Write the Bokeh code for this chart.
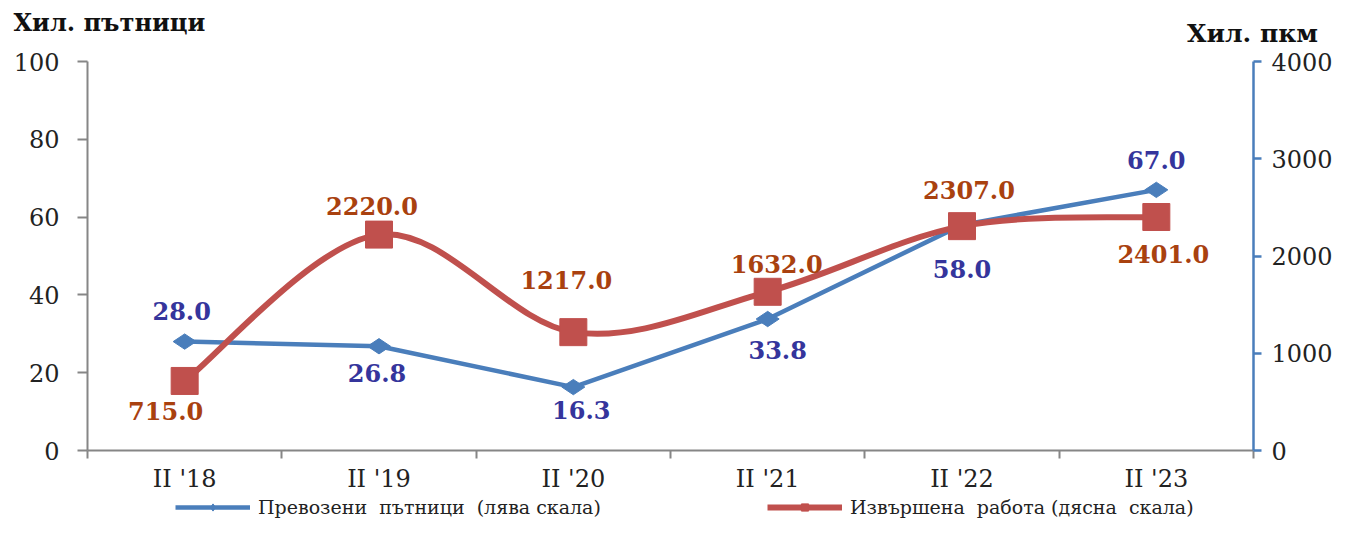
import math
from bokeh.plotting import figure
from bokeh.models import (Range1d, LinearAxis, FixedTicker, Label, Legend, LegendItem,
                          ColumnDataSource)
from bokeh.embed import file_html
from bokeh.resources import INLINE

# ---- data ----
categories = ["II '18", "II '19", "II '20", "II '21", "II '22", "II '23"]
passengers = [28.0, 26.8, 16.3, 33.8, 58.0, 67.0]          # left axis, хил. пътници
work = [715.0, 2220.0, 1217.0, 1632.0, 2307.0, 2401.0]     # right axis, хил. пкм
left_ticks = [0, 20, 40, 60, 80, 100]
right_ticks = [0, 1000, 2000, 3000, 4000]

# ---- layout (pixels) ----
W, H = 1336, 518
PL, PR, PT, PB = 87, 1253, 61, 450          # plot area edges on the canvas
n = len(categories)
LMAX, RMAX = 100.0, 4000.0

# ---- styles ----
FONT = "DejaVu Serif"
BLUE = "#4a7ebb"
RED = "#c0504d"
BLUE_LBL = "#35359c"
RED_LBL = "#a9410f"
GREY = "#868686"
# label offsets in pixels (dx right, dy down)
blue_off = [(-3, -31), (-2, 27), (8, 23), (10, 31), (0, 44), (0, -30)]
red_off = [(-19, 30), (-7, -29), (-7, -52), (9, -28), (7, -36), (7, 37)]

xs = [i + 0.5 for i in range(n)]

# ranges that map the whole canvas, so the plot area sits at PL..PR / PT..PB
xpx = n / (PR - PL)
lpx = LMAX / (PB - PT)
rpx = RMAX / (PB - PT)
x_range = Range1d(-PL * xpx, n + (W - PR) * xpx)
y_range = Range1d(-(H - PB) * lpx, LMAX + PT * lpx)
r_range = Range1d(-(H - PB) * rpx, RMAX + PT * rpx)

p = figure(width=W, height=H, output_backend="svg", toolbar_location=None,
           x_range=x_range, y_range=y_range, x_axis_location=None, y_axis_location=None,
           min_border=0)
p.outline_line_color = None
p.xgrid.visible = False
p.ygrid.visible = False
p.background_fill_color = "white"
p.border_fill_color = "white"
p.extra_y_ranges = {"right": r_range}

# x axis
xa = LinearAxis(fixed_location=0, bounds=(0, n),
                ticker=FixedTicker(ticks=xs, minor_ticks=list(range(n + 1))))
xa.major_label_overrides = {x: c for x, c in zip(xs, categories)}
xa.major_tick_out = 0
xa.major_tick_in = 0
xa.minor_tick_out = 8
xa.minor_tick_in = 0
xa.minor_tick_line_color = GREY
xa.minor_tick_line_width = 2
xa.axis_line_color = GREY
xa.axis_line_width = 2
xa.major_label_text_font = FONT
xa.major_label_text_font_size = "24px"
xa.major_label_text_color = "#222222"
xa.major_label_standoff = 6
p.add_layout(xa, "below")

# left axis
ya = LinearAxis(fixed_location=0, bounds=(0, LMAX), ticker=FixedTicker(ticks=left_ticks))
ya.major_tick_out = 10
ya.major_tick_in = 0
ya.minor_tick_out = 0
ya.minor_tick_in = 0
ya.major_tick_line_color = GREY
ya.major_tick_line_width = 2
ya.axis_line_color = GREY
ya.axis_line_width = 2
ya.major_label_text_font = FONT
ya.major_label_text_font_size = "24px"
ya.major_label_text_color = "#222222"
ya.major_label_standoff = 18
p.add_layout(ya, "left")

# right axis
ra = LinearAxis(y_range_name="right", fixed_location=n, bounds=(0, RMAX),
                ticker=FixedTicker(ticks=right_ticks))
ra.major_tick_out = 8
ra.major_tick_in = 0
ra.minor_tick_out = 0
ra.minor_tick_in = 0
ra.major_tick_line_color = BLUE
ra.major_tick_line_width = 2.5
ra.axis_line_color = BLUE
ra.axis_line_width = 2.5
ra.major_label_text_font = FONT
ra.major_label_text_font_size = "24px"
ra.major_label_text_color = "#222222"
ra.major_label_standoff = 10
p.add_layout(ra, "right")

# blue series (straight)
bl = p.line(xs, passengers, line_color=BLUE, line_width=4.5)
bm = p.scatter(xs, passengers, marker="diamond", angle=math.pi / 2, size=23,
               fill_color=BLUE, line_color=BLUE)

# red series (smoothed, Catmull-Rom bezier segments through the data points)
pts = list(zip(xs, work))
seg = dict(x0=[], y0=[], x1=[], y1=[], cx0=[], cy0=[], cx1=[], cy1=[])
for i in range(n - 1):
    p0 = pts[i - 1] if i > 0 else pts[i]
    p1 = pts[i]
    p2 = pts[i + 1]
    p3 = pts[i + 2] if i + 2 < n else pts[i + 1]
    seg["x0"].append(p1[0]); seg["y0"].append(p1[1])
    seg["x1"].append(p2[0]); seg["y1"].append(p2[1])
    seg["cx0"].append(p1[0] + (p2[0] - p0[0]) / 6); seg["cy0"].append(p1[1] + (p2[1] - p0[1]) / 6)
    seg["cx1"].append(p2[0] - (p3[0] - p1[0]) / 6); seg["cy1"].append(p2[1] - (p3[1] - p1[1]) / 6)
rl = p.bezier(x0="x0", y0="y0", x1="x1", y1="y1", cx0="cx0", cy0="cy0", cx1="cx1", cy1="cy1",
              source=ColumnDataSource(seg), line_color=RED, line_width=6, y_range_name="right")
rm = p.scatter(xs, work, marker="square", size=27, fill_color=RED, line_color=RED,
               y_range_name="right")

# data labels
for x, v, (dx, dy) in zip(xs, passengers, blue_off):
    p.add_layout(Label(x=x, y=v, text=f"{v:.1f}", x_offset=dx, y_offset=-dy,
                       text_align="center", text_baseline="middle", text_font=FONT,
                       text_font_size="24px", text_font_style="bold", text_color=BLUE_LBL))
for x, v, (dx, dy) in zip(xs, work, red_off):
    p.add_layout(Label(x=x, y=v, text=f"{v:.1f}", x_offset=dx, y_offset=-dy,
                       y_range_name="right",
                       text_align="center", text_baseline="middle", text_font=FONT,
                       text_font_size="24px", text_font_style="bold", text_color=RED_LBL))

# axis titles
p.add_layout(Label(x=13, y=H - 22, x_units="screen", y_units="screen", text="Хил. пътници",
                   text_align="left", text_baseline="middle", text_font=FONT,
                   text_font_size="24px", text_font_style="bold", text_color="#111111"))
p.add_layout(Label(x=1252, y=H - 33, x_units="screen", y_units="screen", text="Хил. пкм",
                   text_align="center", text_baseline="middle", text_font=FONT,
                   text_font_size="25px", text_font_style="bold", text_color="#111111"))

# legends
def mk_legend(label, renderers, loc):
    lg = Legend(items=[LegendItem(label=label, renderers=renderers)], location=loc,
                orientation="horizontal", glyph_width=75, glyph_height=18, label_height=18,
                label_standoff=8, padding=0, margin=0, border_line_color=None,
                background_fill_alpha=0, label_text_font=FONT, label_text_font_size="19px",
                label_text_color="#222222", label_text_baseline="middle")
    p.add_layout(lg, "center")

mk_legend("Превозени\u00a0 пътници\u00a0 (лява скала)", [bl, bm], (175, 0))
mk_legend("Извършена\u00a0 работа (дясна\u00a0 скала)", [rl, rm], (767, 0))

open("out.html", "w").write(file_html(p, INLINE))
